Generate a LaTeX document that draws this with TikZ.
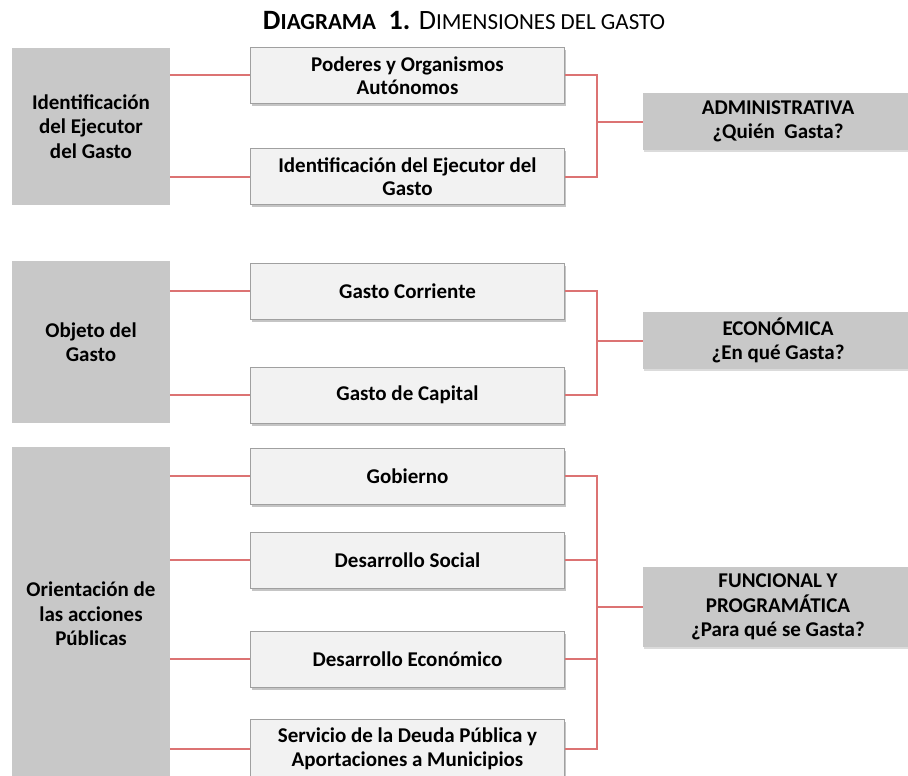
\documentclass[tikz,border=0pt]{standalone}
\usepackage{fontspec}
\setmainfont{Carlito}
\usetikzlibrary{shadows}
\definecolor{grisOsc}{RGB}{200,200,200}
\definecolor{grisCla}{RGB}{242,242,242}
\definecolor{bordeCla}{RGB}{160,160,160}
\definecolor{lineaRoja}{RGB}{220,115,115}
\newcommand{\pc}[1]{{\fontsize{23}{27}\selectfont #1}}
\tikzset{
  dimbox/.style={fill=grisOsc, minimum width=158pt, align=center, inner sep=0pt,
    font=\bfseries\fontsize{21}{24.5}\selectfont},
  subbox/.style={fill=grisCla, draw=bordeCla, line width=0.8pt, minimum width=314pt,
    minimum height=56pt, align=center, inner sep=0pt,
    drop shadow={shadow xshift=1pt, shadow yshift=-2.5pt, fill=black!45, opacity=0.5},
    font=\bfseries\fontsize{21}{23.5}\selectfont},
  clabox/.style={fill=grisOsc, minimum width=270pt, minimum height=57pt, align=center, inner sep=0pt,
    drop shadow={shadow xshift=0.5pt, shadow yshift=-2pt, fill=black!35, opacity=0.4},
    font=\bfseries\fontsize{21}{24.5}\selectfont},
  link/.style={draw=lineaRoja, line width=2pt}
}
\begin{document}
\begin{tikzpicture}[x=1pt,y=-1pt]
\useasboundingbox (0,0) rectangle (908,776);

% titulo
\node (tit) at (464,21) {\fontsize{28}{32}\selectfont\textbf{D\pc{IAGRAMA}\ \ 1.} D\pc{IMENSIONES DEL GASTO}};

% columna izquierda
\node[dimbox, minimum height=157pt] (idA) at (91,126.5) {Identificación\\del Ejecutor\\del Gasto};
\node[dimbox, minimum height=162pt] (idB) at (91,342) {Objeto del\\Gasto};
\node[dimbox, minimum height=334pt] (idC) at (91,614) {Orientación de\\las acciones\\Públicas};

% columna central
\node[subbox] (pod) at (407.5,75.5) {Poderes y Organismos\\Autónomos};
\node[subbox] (eje) at (407.5,176.5) {Identificación del Ejecutor del\\Gasto};
\node[subbox] (cor) at (407.5,291) {Gasto Corriente};
\node[subbox] (cap) at (407.5,395) {Gasto de Capital};
\node[subbox] (gob) at (407.5,476) {Gobierno};
\node[subbox] (soc) at (407.5,560) {Desarrollo Social};
\node[subbox] (eco) at (407.5,659) {Desarrollo Económico};
\node[subbox, minimum height=60pt] (deu) at (407.5,749) {Servicio de la Deuda Pública y\\Aportaciones a Municipios};

% columna derecha
\node[clabox] (adm) at (778,121.5) {ADMINISTRATIVA\\¿Quién\ \ Gasta?};
\node[clabox] (ecn) at (778,340.5) {ECONÓMICA\\¿En qué Gasta?};
\node[clabox, minimum height=80pt] (fun) at (778,607) {FUNCIONAL Y\\PROGRAMÁTICA\\¿Para qué se Gasta?};

\coordinate (bx) at (597,0);

% conectores
\draw[link] (idA.east |- pod.west) -- (pod.west);
\draw[link] (idA.east |- eje.west) -- (eje.west);
\draw[link] (idB.east |- cor.west) -- (cor.west);
\draw[link] (idB.east |- cap.west) -- (cap.west);
\draw[link] (idC.east |- gob.west) -- (gob.west);
\draw[link] (idC.east |- soc.west) -- (soc.west);
\draw[link] (idC.east |- eco.west) -- (eco.west);
\draw[link] (idC.east |- deu.west) -- (deu.west);

\draw[link] (pod.east) -- (pod.east -| bx) -- (eje.east -| bx) -- (eje.east);
\draw[link] (adm.west) -- (adm.west -| bx);
\draw[link] (cor.east) -- (cor.east -| bx) -- (cap.east -| bx) -- (cap.east);
\draw[link] (ecn.west) -- (ecn.west -| bx);
\draw[link] (gob.east) -- (gob.east -| bx) -- (deu.east -| bx) -- (deu.east);
\draw[link] (soc.east) -- (soc.east -| bx);
\draw[link] (eco.east) -- (eco.east -| bx);
\draw[link] (fun.west) -- (fun.west -| bx);
\end{tikzpicture}
\end{document}
